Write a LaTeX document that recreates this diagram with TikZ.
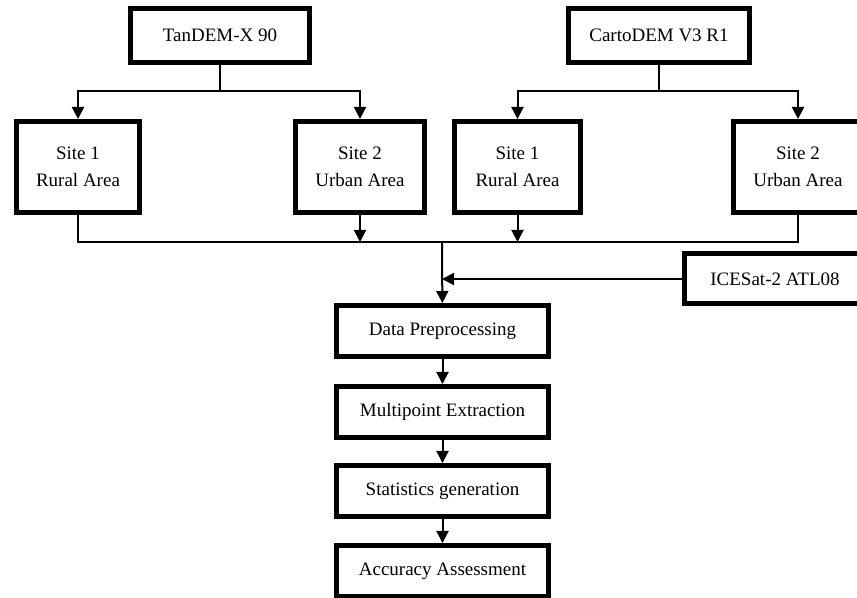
\documentclass[tikz,border=0pt]{standalone}
\usepackage{fontspec}
\setmainfont{Liberation Serif}
\usepackage{tikz}
\usetikzlibrary{arrows.meta,positioning}

\begin{document}
\begin{tikzpicture}[x=0.5pt,y=-0.5pt,
  box/.style={draw,line width=2.5pt,fill=white,align=center,inner sep=0pt,
    font=\fontsize{9.5}{13.5}\selectfont},
  arr/.style={-{Triangle[length=6pt,width=6pt]}},
  every path/.style={line width=1pt}]

\useasboundingbox (0,0) rectangle (857,598);

\node[box,minimum width=89.5pt,minimum height=27pt] (tandem) at (220,35.5){TanDEM-X 90};
\node[box,minimum width=90.5pt,minimum height=27pt] (carto) at (659,35.5){CartoDEM V3 R1};
\node[box,minimum width=61.5pt,minimum height=45.5pt] (site1t) at (78,167){Site 1\\Rural Area};
\node[box,minimum width=64.5pt,minimum height=45.5pt] (site2t) at (360,167){Site 2\\Urban Area};
\node[box,minimum width=63pt,minimum height=45.5pt] (site1c) at (517.5,167){Site 1\\Rural Area};
\node[box,minimum width=64.5pt,minimum height=45.5pt] (site2c) at (798,167){Site 2\\Urban Area};
\node[box,minimum width=90.5pt,minimum height=25pt] (icesat) at (775,279){ICESat-2 ATL08};
\node[box,minimum width=106pt,minimum height=25.5pt] (prep) at (442.5,331){Data Preprocessing};
\node[box,minimum width=106pt,minimum height=25.5pt] (multi) at (442.5,412){Multipoint Extraction};
\node[box,minimum width=106pt,minimum height=25.5pt] (stats) at (442.5,491){Statistics generation};
\node[box,minimum width=106pt,minimum height=25.5pt] (acc) at (442.5,571){Accuracy Assessment};

\coordinate (tj) at (220,91);
\coordinate (cj) at (659,91);
\coordinate (bus) at (442,242);

\draw (tandem) -- (tj);
\draw[arr] (tj) -| (site1t);
\draw[arr] (tj) -| (site2t);
\draw (carto) -- (cj);
\draw[arr] (cj) -| (site1c);
\draw[arr] (cj) -| (site2c);

\draw (site1t) |- (bus);
\draw (site2c) |- (bus);
\draw[arr] (site2t) -- (site2t |- bus);
\draw[arr] (site1c) -- (site1c |- bus);
\draw[arr] (bus) -- (prep);
\draw[arr] (icesat) -- (icesat -| bus);

\draw[arr] (prep) -- (multi);
\draw[arr] (multi) -- (stats);
\draw[arr] (stats) -- (acc);

\end{tikzpicture}
\end{document}
